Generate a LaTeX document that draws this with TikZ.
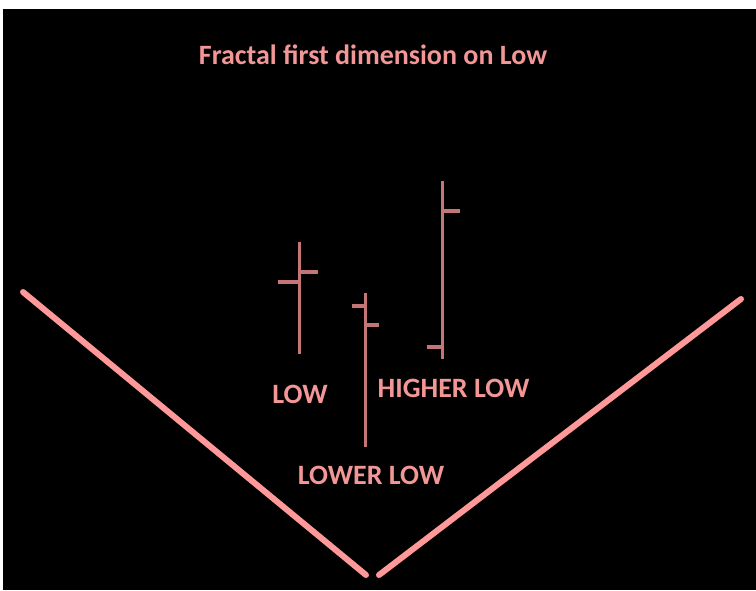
\documentclass[tikz,border=0pt]{standalone}
\usepackage{fontspec}
\setmainfont{Carlito}

\definecolor{vline}{RGB}{255,152,152}
\definecolor{barpink}{RGB}{196,118,118}
\definecolor{txtpink}{RGB}{242,150,150}

\newcommand*{\picw}{756}
\newcommand*{\pich}{590}

\begin{document}
\begin{tikzpicture}
[
	x=1pt,y=-1pt,
	vside/.style={vline,line width=6pt,line cap=round},
	stick/.style={barpink,line width=3pt},
	tick/.style={barpink,line width=4pt},
	lbl/.style={text=txtpink,font=\fontsize{28}{28}\selectfont\bfseries,inner sep=0pt,anchor=base}
]

	% background
	\useasboundingbox (0,0) rectangle (\picw,\pich);
	\fill[white] (0,0) rectangle (\picw,\pich);
	\fill[black] (3,9) rectangle (\picw,\pich);

	% title
	\node[lbl] (title) at (373,64.3) {Fractal first dimension on Low};

	% V
	\coordinate (ltop) at (23,292);
	\coordinate (lbot) at (366,575);
	\coordinate (rbot) at (379,575);
	\coordinate (rtop) at (741,299);
	\draw[vside] (ltop) -- (lbot);
	\draw[vside] (rbot) -- (rtop);

	% low bar
	\draw[stick] (299.3,241.5) -- (299.3,354);
	\draw[tick] (278,282) -- (299.3,282);
	\draw[tick] (299.3,271.7) -- (318,271.7);

	% lower low bar
	\draw[stick] (365.7,293) -- (365.7,447);
	\draw[tick] (351.7,306) -- (365.7,306);
	\draw[tick] (365.7,325) -- (379,325);

	% higher low bar
	\draw[stick] (442.7,180.5) -- (442.7,359);
	\draw[tick] (442.7,211) -- (460,211);
	\draw[tick] (426.7,347) -- (442.7,347);

	% labels
	\node[lbl] (low) at (300,403) {LOW};
	\node[lbl] (higher) at (453.5,397) {HIGHER LOW};
	\node[lbl] (lower) at (371,484) {LOWER LOW};

\end{tikzpicture}
\end{document}
